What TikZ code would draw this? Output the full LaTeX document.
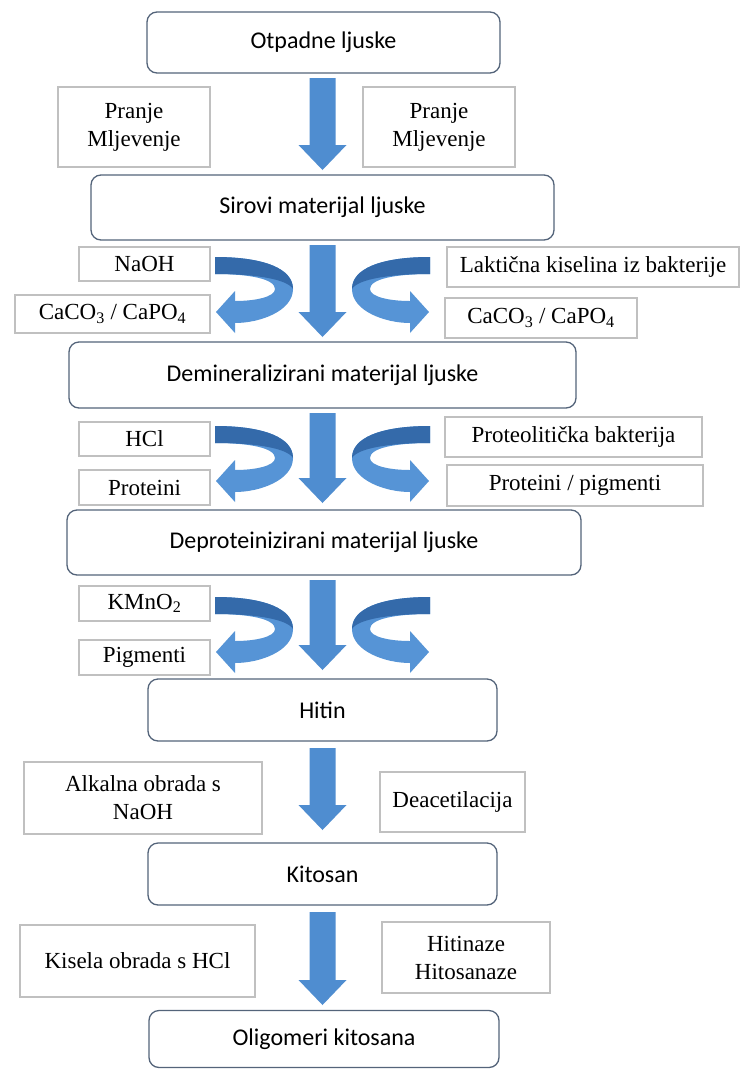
\documentclass[tikz,border=0pt]{standalone}
\usepackage{fontspec}
\setmainfont{Liberation Serif}
\newfontfamily\calfont{Carlito}
\usetikzlibrary{calc}
\definecolor{mainline}{RGB}{84,100,122}
\definecolor{sideline}{RGB}{192,192,192}
\definecolor{arrfill}{RGB}{79,141,208}
\definecolor{arrlight}{RGB}{86,148,214}
\definecolor{arrdark}{RGB}{52,106,170}
\tikzset{
  mainbox/.style={draw=mainline, line width=1.3pt, rounded corners=10pt, fill=white,
    inner sep=0pt, font=\calfont\fontsize{24}{28}\selectfont},
  sidebox/.style={draw=sideline, line width=1.1pt, fill=white, inner sep=0pt,
    align=center, font=\fontsize{23}{28}\selectfont},
  uturn/.pic={
    \fill[arrlight] (0,0) .. controls (-50,0) and (-78,12) .. (-78,32)
      .. controls (-78,54) and (-45,66) .. (-20,66) -- (-20,76) -- (-1,55) -- (-20,34) -- (-20,44)
      .. controls (-40,44) and (-60,40) .. (-60,32) .. controls (-60,22) and (-35,17) .. (0,17) -- cycle;
    \fill[arrdark] (0,0) .. controls (-50,0) and (-78,12) .. (-78,32)
      .. controls (-72,22) and (-40,17) .. (0,17) -- cycle;
  }
}
\newcommand\dnarrow[2]{%
  \fill[arrfill] ($(#1)+(-13,0)$) -- ($(#1)+(13,0)$) -- ($(#2)+(13,-25)$) -- ($(#2)+(24,-25)$)
    -- (#2) -- ($(#2)+(-24,-25)$) -- ($(#2)+(-13,-25)$) -- cycle;}
\begin{document}
\begin{tikzpicture}[x=1pt,y=-1pt]
\useasboundingbox (0,0) rectangle (740,1069);
\fill[white] (0,0) rectangle (740,1069);
% main boxes
\node[mainbox, minimum width=353pt, minimum height=61pt] (b1) at (323.5,42.5) {Otpadne ljuske};
\node[mainbox, minimum width=463pt, minimum height=65pt] (b2) at (322.5,207.5) {Sirovi materijal ljuske};
\node[mainbox, minimum width=507pt, minimum height=66pt] (b3) at (322.5,375) {Demineralizirani materijal ljuske};
\node[mainbox, minimum width=514pt, minimum height=65pt] (b4) at (324,542.5) {Deproteinizirani materijal ljuske};
\node[mainbox, minimum width=349pt, minimum height=62pt] (b5) at (322.5,710) {Hitin};
\node[mainbox, minimum width=349pt, minimum height=62pt] (b6) at (322.5,874) {Kitosan};
\node[mainbox, minimum width=350pt, minimum height=57pt] (b7) at (324,1039) {Oligomeri kitosana};
% side boxes
\node[sidebox, minimum width=152pt, minimum height=80pt] (p1) at (134,127) {Pranje\\Mljevenje};
\node[sidebox, minimum width=152pt, minimum height=80pt] (p2) at (439,127) {Pranje\\Mljevenje};
\node[sidebox, minimum width=131pt, minimum height=34pt] (n1) at (144.5,264) {NaOH};
\node[sidebox, minimum width=195pt, minimum height=38pt] (c1) at (112.5,314) {CaCO\textsubscript{3} / CaPO\textsubscript{4}};
\node[sidebox, minimum width=292pt, minimum height=40pt] (l1) at (593,267) {Laktična kiselina iz bakterije};
\node[sidebox, minimum width=192pt, minimum height=40pt] (c2) at (541,318) {CaCO\textsubscript{3} / CaPO\textsubscript{4}};
\node[sidebox, minimum width=131pt, minimum height=34pt] (h1) at (144.5,439) {HCl};
\node[sidebox, minimum width=131pt, minimum height=35pt] (pr1) at (144.5,487.5) {Proteini};
\node[sidebox, minimum width=257pt, minimum height=40pt] (pb) at (573.5,437) {Proteolitička bakterija};
\node[sidebox, minimum width=256pt, minimum height=41pt] (pp) at (575,485.5) {Proteini / pigmenti};
\node[sidebox, minimum width=131pt, minimum height=35pt] (k1) at (144.5,603.5) {KMnO\textsubscript{2}};
\node[sidebox, minimum width=131pt, minimum height=35pt] (pg) at (144.5,657.5) {Pigmenti};
\node[sidebox, minimum width=238pt, minimum height=72pt] (a1) at (143,798) {Alkalna obrada s\\NaOH};
\node[sidebox, minimum width=145pt, minimum height=60pt] (d1) at (452.5,802) {Deacetilacija};
\node[sidebox, minimum width=235pt, minimum height=72pt] (ks) at (137.5,961) {Kisela obrada s HCl};
\node[sidebox, minimum width=168pt, minimum height=71pt] (ht) at (466,957.5) {Hitinaze\\Hitosanaze};
% down arrows
\coordinate (t1) at (322.5,78);  \coordinate (e1) at (322.5,170);
\coordinate (t2) at (322.5,245); \coordinate (e2) at (322.5,337);
\coordinate (t3) at (322.5,413); \coordinate (e3) at (322.5,503);
\coordinate (t4) at (322.5,580); \coordinate (e4) at (322.5,670);
\coordinate (t5) at (322.5,748); \coordinate (e5) at (322.5,830);
\coordinate (t6) at (322.5,912); \coordinate (e6) at (322.5,1005);
\dnarrow{t1}{e1}
\dnarrow{t2}{e2}
\dnarrow{t3}{e3}
\dnarrow{t4}{e4}
\dnarrow{t5}{e5}
\dnarrow{t6}{e6}
% u-turn arrows
\pic at (430,257) {uturn};
\pic[xscale=-1] at (215,257) {uturn};
\pic at (430,426) {uturn};
\pic[xscale=-1] at (215,426) {uturn};
\pic at (430,597) {uturn};
\pic[xscale=-1] at (215,597) {uturn};
\end{tikzpicture}
\end{document}
